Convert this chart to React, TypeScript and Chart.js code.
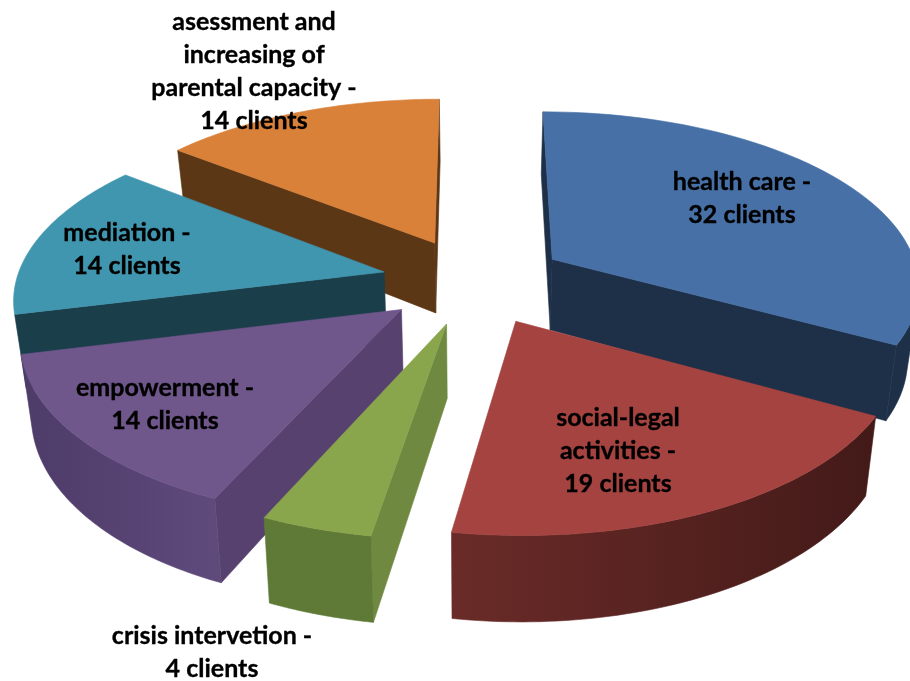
import React, { useEffect, useRef } from "react";
import { Chart, registerables } from "chart.js";

Chart.register(...registerables);

const categories = ["health care", "social-legal activities", "crisis intervetion", "empowerment", "mediation", "asessment and increasing of parental capacity"];
const clients = [32, 19, 4, 14, 14, 14];
const labelLines = [
  ["health care -", "32 clients"],
  ["social-legal", "activities -", "19 clients"],
  ["crisis intervetion -", "4 clients"],
  ["empowerment -", "14 clients"],
  ["mediation -", "14 clients"],
  ["asessment and", "increasing of", "parental capacity -", "14 clients"],
];
const labelAnchors = [
  [742, 182],
  [618, 418],
  [212, 636],
  [165, 388],
  [127, 233],
  [254, 22],
];
const topColors = ["#4670A6", "#A54341", "#8AA64C", "#6F568B", "#3F96AE", "#D98039"];
const radialColors = ["#1E3048", "#5E2725", "#6F8A40", "#57426F", "#1B3E4B", "#5C3716"];
const wallStops = [
  ["#1E3048", "#1E3048"],
  ["#6A2B28", "#431A18"],
  ["#5F7A36", "#5F7A36"],
  ["#4D3B68", "#5F4A7C"],
  ["#1B3E4B", "#1B3E4B"],
  ["#5C3716", "#5C3716"],
];

// view of the pie plane
const VIEW = { cx: 474, cy: 281, sx: 368, sy: 173, p: 0.136, depth: 72, shrink: 0.975 };

function project(u: number, v: number) {
  const w = 1 - VIEW.p * v;
  return { x: VIEW.cx + (VIEW.sx * u) / w, y: VIEW.cy + (VIEW.sy * v) / w, w };
}
function lower(q: { x: number; y: number; w: number }) {
  return { x: VIEW.cx + (q.x - VIEW.cx) * VIEW.shrink, y: q.y + VIEW.depth / q.w, w: q.w };
}
type P = { x: number; y: number };
function area(pts: P[]) {
  let a = 0;
  pts.forEach((q, i) => {
    const r = pts[(i + 1) % pts.length];
    a += q.x * r.y - r.x * q.y;
  });
  return a / 2;
}
function fillPoly(ctx: CanvasRenderingContext2D, pts: P[], fill: string | CanvasGradient) {
  ctx.beginPath();
  pts.forEach((q, i) => (i ? ctx.lineTo(q.x, q.y) : ctx.moveTo(q.x, q.y)));
  ctx.closePath();
  ctx.fillStyle = fill;
  ctx.strokeStyle = fill;
  ctx.lineWidth = 0.6;
  ctx.fill();
  ctx.stroke();
}

const pie3d = {
  id: "pie3d",
  beforeDatasetsDraw(chart: any) {
    const ctx: CanvasRenderingContext2D = chart.ctx;
    const arcs: any[] = chart.getDatasetMeta(0).data;
    const order = arcs
      .map((el, i) => ({ el, i, v: Math.sin((el.startAngle + el.endAngle) / 2) }))
      .sort((a, b) => a.v - b.v);
    for (const { el, i } of order) {
      const mid = (el.startAngle + el.endAngle) / 2;
      const d = el.options.offset / el.outerRadius;
      const ax = Math.cos(mid) * d;
      const ay = Math.sin(mid) * d;
      const apex = project(ax, ay);
      const steps = 60;
      const rim = [];
      for (let k = 0; k <= steps; k++) {
        const t = el.startAngle + ((el.endAngle - el.startAngle) * k) / steps;
        rim.push(project(ax + Math.cos(t), ay + Math.sin(t)));
      }
      const top: P[] = [apex, ...rim];
      const sign = Math.sign(area(top));
      // radial walls
      const f1 = [apex, lower(apex), lower(rim[0]), rim[0]];
      const f2 = [rim[steps], lower(rim[steps]), lower(apex), apex];
      for (const f of [f1, f2]) if (Math.sign(area(f)) === sign) fillPoly(ctx, f, radialColors[i]);
      // outer wall: one polygon for each visible run of the rim
      const xs = rim.map((q) => q.x);
      const g = ctx.createLinearGradient(Math.min(...xs), 0, Math.max(...xs), 0);
      g.addColorStop(0, wallStops[i][0]);
      g.addColorStop(1, wallStops[i][1]);
      let run: any[] = [];
      const flush = () => {
        if (run.length > 1) fillPoly(ctx, [...run, ...run.slice().reverse().map(lower)], g);
        run = [];
      };
      for (let k = 0; k < steps; k++) {
        const f = [rim[k], lower(rim[k]), lower(rim[k + 1]), rim[k + 1]];
        if (Math.sign(area(f)) === sign) {
          if (!run.length) run.push(rim[k]);
          run.push(rim[k + 1]);
        } else flush();
      }
      flush();
      fillPoly(ctx, top, el.options.backgroundColor);
    }
    return false;
  },
  afterDraw(chart: any) {
    const ctx: CanvasRenderingContext2D = chart.ctx;
    ctx.save();
    ctx.font = 'bold 25px Lato, "Open Sans", sans-serif';
    ctx.fillStyle = "#000";
    ctx.strokeStyle = "#000";
    ctx.lineWidth = 0.35;
    ctx.textAlign = "center";
    ctx.textBaseline = "middle";
    labelLines.forEach((lines, i) => {
      lines.forEach((line, j) => {
        ctx.fillText(line, labelAnchors[i][0], labelAnchors[i][1] + j * 33);
        ctx.strokeText(line, labelAnchors[i][0], labelAnchors[i][1] + j * 33);
      });
    });
    ctx.restore();
  },
};

export default function App() {
  const ref = useRef<HTMLCanvasElement>(null);
  useEffect(() => {
    document.body.style.margin = "0";
    document.body.style.background = "#fff";
    const chart = new Chart(ref.current!, {
      type: "pie",
      data: {
        labels: categories,
        datasets: [{ data: clients, backgroundColor: topColors, borderWidth: 0, offset: 76 }],
      },
      options: {
        responsive: false,
        animation: false,
        layout: { padding: 0 },
        events: [],
        plugins: { legend: { display: false }, tooltip: { enabled: false }, title: { display: false } },
      },
      plugins: [pie3d],
    } as any);
    return () => chart.destroy();
  }, []);
  return <canvas ref={ref} width={910} height={681} style={{ display: "block", width: 910, height: 681 }} />;
}
